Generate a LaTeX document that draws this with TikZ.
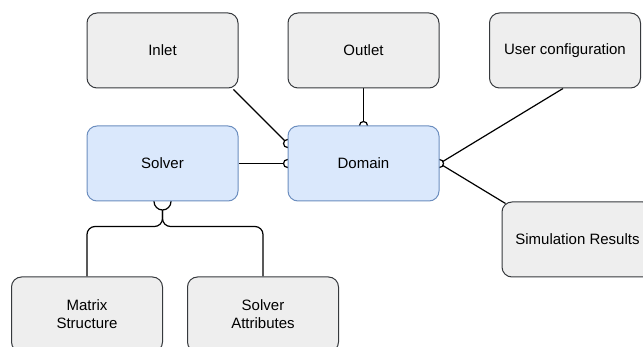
\documentclass[tikz,border=0pt]{standalone}
\usepackage{fontspec}
\setmainfont{Liberation Sans}
\usetikzlibrary{backgrounds,calc}
\definecolor{grayfill}{HTML}{EEEEEE}
\definecolor{graydraw}{HTML}{36393D}
\definecolor{bluefill}{HTML}{DAE8FC}
\definecolor{bluedraw}{HTML}{6C8EBF}
\tikzset{
  box/.style={rectangle, rounded corners=10pt, minimum width=151pt, minimum height=75pt,
    line width=1pt, draw=graydraw, fill=grayfill, align=center,
    font=\fontsize{15}{18}\selectfont, inner sep=0pt},
  bluebox/.style={box, draw=bluedraw, fill=bluefill},
  conn/.style={line width=1.2pt, black},
  knob/.style={line width=1.2pt, draw=black, fill=white}
}
\begin{document}
\begin{tikzpicture}[x=1pt,y=-1pt]
\useasboundingbox (0,0) rectangle (643,347);
\node[box] (inlet) at (162.5,50.5) {Inlet};
\node[box] (outlet) at (363.5,50.5) {Outlet};
\node[box] (user) at (565,50.5) {User configuration};
\node[bluebox] (solver) at (162.5,163.5) {Solver};
\node[bluebox] (domain) at (363.5,163.5) {Domain};
\node[box] (sim) at (577.5,239.5) {Simulation Results};
\node[box] (ms) at (87,314.5) {Matrix\\Structure};
\node[box] (sa) at (263,314.5) {Solver\\Attributes};
\coordinate (inA) at ($(inlet.south east)+(-5,1)$);
\coordinate (dL1) at ($(domain.west)+(0,-20)$);
\coordinate (uc) at ($(user.south)+(-2,0)$);
\coordinate (simA) at ($(sim.north west)+(4,2)$);
\coordinate (sb) at ($(solver.south)+(0,8.5)$);
\coordinate (j) at ($(solver.south)+(0,25)$);
\begin{scope}[on background layer]
\draw[conn] (inA) -- (dL1);
\draw[conn] (outlet.south) -- (domain.north);
\draw[conn] (solver.east) -- (domain.west);
\draw[conn] (uc) -- (domain.east);
\draw[conn] (domain.east) -- (simA);
\draw[conn, rounded corners=8pt] (sb) -- (j) -| (ms.north);
\draw[conn, rounded corners=8pt] (sb) -- (j) -| (sa.north);
\draw[knob] (dL1) circle (4);
\draw[knob] (domain.west) circle (4);
\draw[knob] (domain.north) circle (4);
\draw[knob] (domain.east) circle (4);
\draw[knob] (solver.south) circle (8.5);
\end{scope}
\end{tikzpicture}
\end{document}
